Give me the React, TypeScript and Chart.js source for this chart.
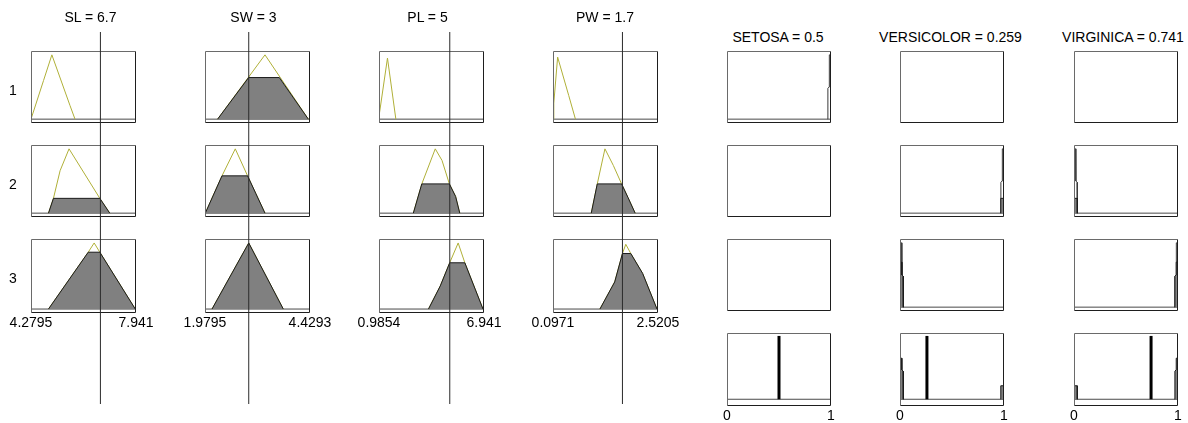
import React, { useEffect, useRef } from 'react';
import { Chart, registerables } from 'chart.js';

Chart.register(...registerables);

// ---------------- DATA ----------------
const inputNames = ['SL', 'SW', 'PL', 'PW'];
const inputValues = [6.7, 3, 5, 1.7];
const inputRanges = [
  [4.2795, 7.941],
  [1.9795, 4.4293],
  [0.9854, 6.941],
  [0.0971, 2.5205],
];
const inputTickLabels = [
  ['4.2795', '7.941'],
  ['1.9795', '4.4293'],
  ['0.9854', '6.941'],
  ['0.0971', '2.5205'],
];
const ruleLabels = ['1', '2', '3'];

const outputNames = ['SETOSA', 'VERSICOLOR', 'VIRGINICA'];
const outputValues = [0.5, 0.259, 0.741];
const outputRange = [0, 1];
const outputTickLabels = ['0', '1'];

// membership functions per rule (x, degree)
const slMf = [
  [[4.2795, 0], [4.716, 0.6], [5.007, 1], [5.641, 0.21], [5.814, 0]],
  [[4.889, 0], [5.062, 0.23], [5.294, 0.66], [5.606, 1.0], [6.68, 0.23], [7.026, 0]],
  [[4.889, 0], [6.275, 0.86], [6.482, 1.0], [6.68, 0.86], [7.916, 0]],
];
const slFill = [
  null,
  [[4.889, 0], [5.062, 0.23], [6.68, 0.23], [7.026, 0]],
  [[4.889, 0], [6.275, 0.86], [6.68, 0.86], [7.916, 0]],
];
const swMf = [
  [[2.2735, 0], [3.379, 1.0], [4.39, 0]],
  [[1.9865, 0], [2.376, 0.58], [2.686, 1.0], [2.973, 0.58], [3.169, 0.3], [3.379, 0]],
  [[2.143, 0], [3.0, 1.0], [3.806, 0]],
];
const swFill = [
  [[2.2735, 0], [2.997, 0.647], [3.713, 0.647], [4.39, 0]],
  [[1.9865, 0], [2.376, 0.58], [2.973, 0.58], [3.169, 0.3], [3.379, 0]],
  [[2.143, 0], [3.0, 1.0], [3.806, 0]],
];
const plMf = [
  [[0.9854, 0], [1.0, 0.07], [1.466, 0.95], [1.941, 0]],
  [[2.933, 0], [3.414, 0.455], [4.176, 1.0], [4.559, 0.82], [4.977, 0.455], [5.33, 0.26], [5.567, 0]],
  [[3.792, 0], [4.462, 0.35], [4.995, 0.7], [5.476, 1.0], [5.854, 0.7], [6.884, 0]],
];
const plFill = [
  null,
  [[2.933, 0], [3.414, 0.455], [4.977, 0.455], [5.33, 0.26], [5.567, 0]],
  [[3.792, 0], [4.462, 0.35], [4.995, 0.7], [5.854, 0.7], [6.884, 0]],
];
const pwMf = [
  [[0.0971, 0], [0.1157, 0.25], [0.204, 0.965], [0.459, 0.37], [0.615, 0]],
  [[0.98, 0], [1.119, 0.455], [1.296, 1.0], [1.491, 0.74], [1.68, 0.455], [1.83, 0.24], [1.993, 0]],
  [[1.18, 0], [1.521, 0.41], [1.7, 0.84], [1.777, 0.98], [1.893, 0.84], [2.165, 0.54], [2.497, 0]],
];
const pwFill = [
  null,
  [[0.98, 0], [1.119, 0.455], [1.68, 0.455], [1.83, 0.24], [1.993, 0]],
  [[1.18, 0], [1.521, 0.41], [1.7, 0.84], [1.893, 0.84], [2.165, 0.54], [2.497, 0]],
];
const inputMfs = [slMf, swMf, plMf, pwMf];
const inputFills = [slFill, swFill, plFill, pwFill];

// output membership functions
const mfNear0 = [[0, 0], [0, 1], [0.016, 1], [0.018, 0.5], [0.03, 0.48], [0.032, 0]];
const mfNear1 = [[0.968, 0], [0.97, 0.48], [0.982, 0.5], [0.984, 1], [1, 1], [1, 0]];
const near0Clip070 = [[0, 0], [0, 0.7], [0.017, 0.7], [0.018, 0.5], [0.03, 0.48], [0.032, 0]];
const near0Clip023 = [[0, 0], [0, 0.23], [0.031, 0.23], [0.032, 0]];
const near1Clip070 = [[0.968, 0], [0.97, 0.48], [0.982, 0.5], [0.983, 0.7], [1, 0.7], [1, 0]];
const near1Clip023 = [[0.968, 0], [0.969, 0.23], [1, 0.23], [1, 0]];

const outputRuleMf = [
  [mfNear1, null, null],
  [null, mfNear1, mfNear0],
  [null, mfNear0, mfNear1],
];
const outputRuleFill = [
  [null, null, null],
  [null, near1Clip023, near0Clip023],
  [null, near0Clip070, near1Clip070],
];
const aggregateFills = [[], [near0Clip070, near1Clip023], [near0Clip023, near1Clip070]];
const defuzzLineTop = 1.08;

// ---------------- LAYOUT ----------------
const FONT = "'Liberation Sans', Arial, sans-serif";
const inputLefts = [31, 205, 379, 553];
const inputWidth = 105;
const outputLefts = [727, 900, 1074];
const outputWidth = 104;
const rowTops = [51, 145, 239, 333];
const rowHeights = [74, 74, 74, 73];
const ruleY = [-0.06, 1.06];
const aggY = [-0.115, 1.13];
const inputTitleX = [90.5, 253.5, 427.5, 605];
const outputTitleX = [778, 950.5, 1123];

const pts = (a: number[][]) => a.map(([x, y]) => ({ x, y }));

const framePlugin = {
  id: 'frame',
  afterDatasetsDraw(chart: any, _args: any, opts: any) {
    if (!opts || !opts.show) return;
    const { left, top, right, bottom } = chart.chartArea;
    const ctx = chart.ctx;
    ctx.save();
    ctx.lineWidth = 1;
    ctx.strokeStyle = '#6a6a6a';
    ctx.beginPath();
    ctx.moveTo(left + 0.5, bottom - 0.5);
    ctx.lineTo(left + 0.5, top + 0.5);
    ctx.lineTo(right - 0.5, top + 0.5);
    ctx.stroke();
    ctx.strokeStyle = '#1e1e1e';
    ctx.beginPath();
    ctx.moveTo(right - 0.5, top + 0.5);
    ctx.lineTo(right - 0.5, bottom - 0.5);
    ctx.lineTo(left + 0.5, bottom - 0.5);
    ctx.stroke();
    ctx.restore();
  },
};

type PanelProps = {
  left: number;
  top: number;
  width: number;
  height: number;
  xRange: number[];
  yRange: number[];
  datasets: any[];
  ticks?: string[] | null;
  frame?: boolean;
  padX?: number;
  padT?: number;
  z?: number;
};

function Panel({ left, top, width, height, xRange, yRange, datasets, ticks, frame = true, padX = 30, padT = 2, z = 1 }: PanelProps) {
  const ref = useRef<HTMLCanvasElement>(null);
  const padB = ticks ? 24 : padT;
  const cw = width + 2 * padX;
  const ch = height + padT + padB;
  useEffect(() => {
    if (!ref.current) return;
    const [xmin, xmax] = xRange;
    const chart = new Chart(ref.current, {
      type: 'line',
      data: { datasets },
      options: {
        responsive: false,
        animation: false,
        events: [],
        layout: { padding: { left: padX, right: padX, top: padT, bottom: ticks ? 0 : padB } },
        plugins: {
          legend: { display: false },
          tooltip: { enabled: false },
          // @ts-ignore
          frame: { show: frame },
        },
        scales: {
          x: {
            type: 'linear',
            min: xmin,
            max: xmax,
            display: !!ticks,
            grid: { display: false, drawTicks: false },
            border: { display: false },
            afterBuildTicks: (s: any) => {
              s.ticks = [{ value: xmin }, { value: xmax }];
            },
            afterFit: (s: any) => {
              s.height = padB;
            },
            ticks: {
              autoSkip: false,
              maxRotation: 0,
              padding: 2,
              color: '#000',
              font: { family: FONT, size: 14 },
              callback: (_v: any, i: number) => (ticks ? ticks[i] : ''),
            },
          },
          y: { type: 'linear', min: yRange[0], max: yRange[1], display: false },
        },
      } as any,
      plugins: [framePlugin],
    });
    return () => chart.destroy();
  }, []);
  return (
    <canvas
      ref={ref}
      width={cw}
      height={ch}
      style={{ position: 'absolute', left: left - padX, top: top - padT, width: cw, height: ch, zIndex: z }}
    />
  );
}

const baseline = (r: number[]) => ({
  data: pts([[r[0], 0], [r[1], 0]]),
  borderColor: '#4a4a4a',
  borderWidth: 1,
  pointRadius: 0,
  fill: false,
  order: 5,
});
const mfLine = (a: number[][], color: string) => ({
  data: pts(a),
  borderColor: color,
  borderWidth: 1,
  pointRadius: 0,
  fill: false,
  order: 4,
});
const fillArea = (a: number[][]) => ({
  data: pts(a),
  borderColor: '#1a1a1a',
  borderWidth: 1,
  backgroundColor: '#808080',
  pointRadius: 0,
  fill: 'origin',
  order: 3,
});

function Label({ x, y, text }: { x: number; y: number; text: string }) {
  return (
    <div
      style={{
        position: 'absolute',
        left: x,
        top: y,
        transform: 'translate(-50%, -50%)',
        font: `14px ${FONT}`,
        lineHeight: '14px',
        whiteSpace: 'nowrap',
        color: '#000',
        zIndex: 5,
      }}
    >
      {text}
    </div>
  );
}

export default function App() {
  const panels: React.ReactNode[] = [];
  // input panels
  inputNames.forEach((_n, c) => {
    ruleLabels.forEach((_r, r) => {
      const ds: any[] = [baseline(inputRanges[c]), mfLine(inputMfs[c][r], '#b0b038')];
      const f = inputFills[c][r];
      if (f) ds.push(fillArea(f));
      panels.push(
        <Panel
          key={`in-${c}-${r}`}
          left={inputLefts[c]}
          top={rowTops[r]}
          width={inputWidth}
          height={rowHeights[r]}
          xRange={inputRanges[c]}
          yRange={ruleY}
          datasets={ds}
          ticks={r === ruleLabels.length - 1 ? inputTickLabels[c] : null}
        />
      );
    });
    // input value line
    panels.push(
      <Panel
        key={`line-${c}`}
        left={inputLefts[c]}
        top={32}
        width={inputWidth}
        height={372}
        xRange={inputRanges[c]}
        yRange={[0, 1]}
        frame={false}
        padX={0}
        padT={0}
        z={3}
        datasets={[
          {
            data: pts([[inputValues[c], 0], [inputValues[c], 1]]),
            borderColor: '#2a2a2a',
            borderWidth: 1,
            pointRadius: 0,
            fill: false,
          },
        ]}
      />
    );
  });
  // output panels
  outputNames.forEach((_n, c) => {
    ruleLabels.forEach((_r, r) => {
      const ds: any[] = [];
      const mf = outputRuleMf[r][c];
      if (mf) {
        ds.push(baseline(outputRange));
        ds.push(mfLine(mf, '#3a3a3a'));
      }
      const f = outputRuleFill[r][c];
      if (f) ds.push(fillArea(f));
      panels.push(
        <Panel
          key={`out-${c}-${r}`}
          left={outputLefts[c]}
          top={rowTops[r]}
          width={outputWidth}
          height={rowHeights[r]}
          xRange={outputRange}
          yRange={ruleY}
          datasets={ds}
        />
      );
    });
    const agg: any[] = [baseline(outputRange)];
    aggregateFills[c].forEach((f) => agg.push(fillArea(f)));
    agg.push({
      data: pts([[outputValues[c], 0], [outputValues[c], defuzzLineTop]]),
      borderColor: '#000',
      borderWidth: 3,
      pointRadius: 0,
      fill: false,
      order: 1,
    });
    panels.push(
      <Panel
        key={`agg-${c}`}
        left={outputLefts[c]}
        top={rowTops[3]}
        width={outputWidth}
        height={rowHeights[3]}
        xRange={outputRange}
        yRange={aggY}
        datasets={agg}
        ticks={outputTickLabels}
      />
    );
  });

  return (
    <div
      style={{
        position: 'absolute',
        left: 0,
        top: 0,
        width: 1188,
        height: 423,
        background: '#fff',
        overflow: 'hidden',
        fontFamily: FONT,
      }}
    >
      {panels}
      {inputNames.map((n, c) => (
        <Label key={`t-${c}`} x={inputTitleX[c]} y={17} text={`${n} = ${inputValues[c]}`} />
      ))}
      {outputNames.map((n, c) => (
        <Label key={`o-${c}`} x={outputTitleX[c]} y={37} text={`${n} = ${outputValues[c]}`} />
      ))}
      {ruleLabels.map((l, r) => (
        <Label key={`r-${r}`} x={13} y={rowTops[r] + rowHeights[r] / 2 + 2} text={l} />
      ))}
    </div>
  );
}
